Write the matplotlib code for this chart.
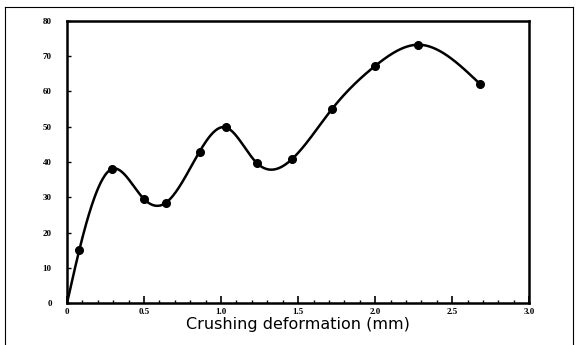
import numpy as np
import matplotlib
matplotlib.use("Agg")
import matplotlib.pyplot as plt
from matplotlib.lines import Line2D

# data
deform = [0.0, 0.08, 0.29, 0.50, 0.64, 0.86, 1.03, 1.23, 1.46, 1.72, 2.00, 2.28, 2.68]
load = [0.0, 15.1, 38.0, 29.5, 28.4, 42.9, 49.8, 39.8, 40.8, 55.0, 67.2, 73.2, 62.1]
marked = slice(1, None)  # first point (origin) has no marker

xticks = [0, 0.5, 1.0, 1.5, 2.0, 2.5, 3.0]
xticklabels = ["0", "0.5", "1.0", "1.5", "2.0", "2.5", "3.0"]
yticks = [0, 10, 20, 30, 40, 50, 60, 70, 80]


def natural_spline(x, y, xs):
    # plain natural cubic spline, just for drawing the smooth curve
    x = np.asarray(x, float)
    y = np.asarray(y, float)
    n = len(x)
    h = np.diff(x)
    A = np.zeros((n, n))
    b = np.zeros(n)
    A[0, 0] = A[-1, -1] = 1
    for i in range(1, n - 1):
        A[i, i - 1] = h[i - 1]
        A[i, i] = 2 * (h[i - 1] + h[i])
        A[i, i + 1] = h[i]
        b[i] = 3 * ((y[i + 1] - y[i]) / h[i] - (y[i] - y[i - 1]) / h[i - 1])
    c = np.linalg.solve(A, b)
    idx = np.clip(np.searchsorted(x, xs) - 1, 0, n - 2)
    dx = xs - x[idx]
    bb = (y[idx + 1] - y[idx]) / h[idx] - h[idx] * (2 * c[idx] + c[idx + 1]) / 3
    dd = (c[idx + 1] - c[idx]) / (3 * h[idx])
    return y[idx] + bb * dx + c[idx] * dx ** 2 + dd * dx ** 3


fig = plt.figure(figsize=(5.8, 3.45), dpi=100)
ax = fig.add_axes([0.1155, 0.121, 0.797, 0.819])

xs = np.linspace(deform[0], deform[-1], 600)
ax.plot(xs, natural_spline(deform, load, xs), color="black", lw=1.8)
ax.plot(deform[marked], load[marked], "o", color="black", ms=5.5)

ax.set_xlim(0, 3.0)
ax.set_ylim(0, 80)
ax.set_xticks(xticks)
ax.set_xticklabels(xticklabels)
ax.set_xticks(np.arange(0, 3.01, 0.1), minor=True)
ax.set_yticks(yticks)
ax.tick_params(axis="both", which="both", direction="in", top=False, right=False,
               labelsize=6.5, pad=3.5)
ax.tick_params(axis="x", which="major", length=5, width=1.2)
ax.tick_params(axis="x", which="minor", length=2.5, width=1)
ax.tick_params(axis="y", which="major", length=3, width=1, pad=11)
for lbl in ax.get_xticklabels() + ax.get_yticklabels():
    lbl.set_fontfamily("Liberation Serif")
    lbl.set_fontweight("bold")
for s in ax.spines.values():
    s.set_linewidth(1.8)

ax.set_xlabel("Crushing deformation (mm)", fontsize=11.5, fontfamily="DejaVu Sans",
              labelpad=0.5)

# outer frame around the figure (no bottom line)
for xy in [([5 / 580, 5 / 580], [0, 1 - 7 / 345]),
           ([5 / 580, 573 / 580], [1 - 7 / 345, 1 - 7 / 345]),
           ([573 / 580, 573 / 580], [1 - 7 / 345, 0])]:
    fig.add_artist(Line2D(xy[0], xy[1], transform=fig.transFigure, color="black", lw=0.8))

fig.savefig("out.png", dpi=100)
